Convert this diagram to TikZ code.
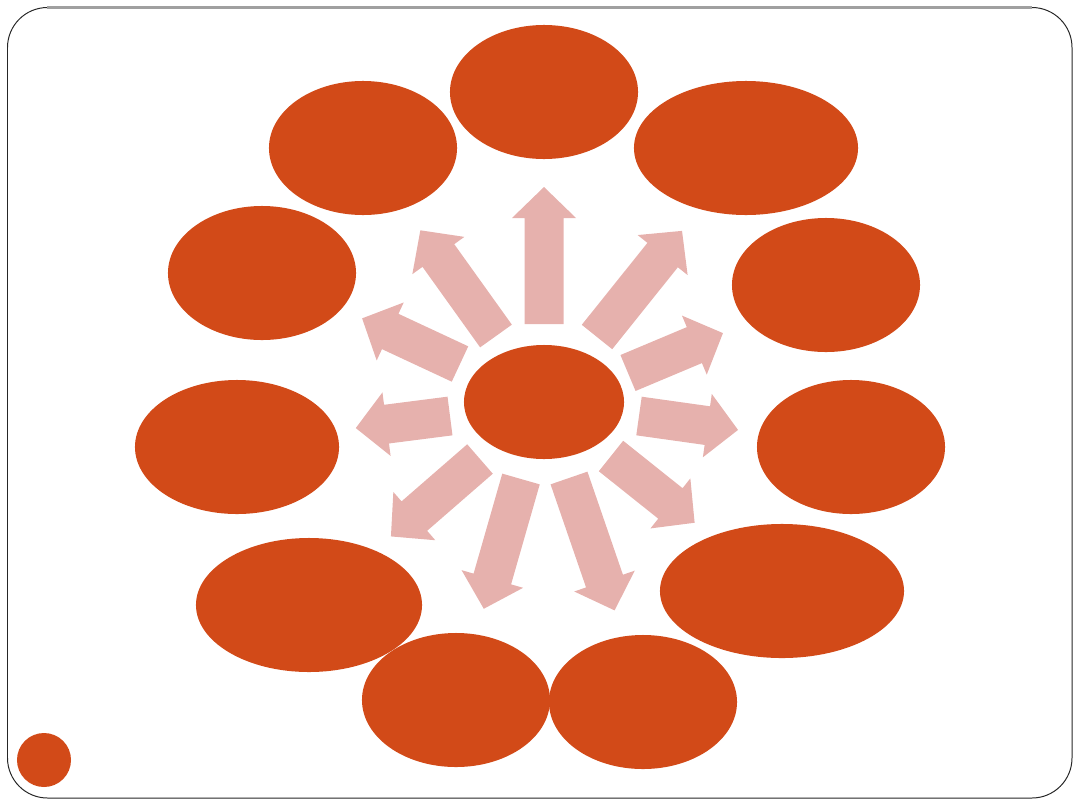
\documentclass[tikz,border=0pt]{standalone}
\usetikzlibrary{shapes.geometric}
\definecolor{bubblered}{RGB}{210,74,24}
\definecolor{raypink}{RGB}{230,177,173}
\definecolor{framegray}{RGB}{160,160,160}

\begin{document}
\begin{tikzpicture}[x=0.025cm, y=-0.025cm]
\tikzset{bubble/.style = {shape=ellipse, fill=bubblered, minimum width=4.7cm, minimum height=3.35cm, inner sep=0pt}}
\tikzset{ray/.style = {fill=raypink}}
\useasboundingbox (0,0) rectangle (1080,810);

% slide frame
\draw[black!85, line width=0.7pt, rounded corners=1cm] (7.5,7.5) rectangle (1072,798);
\draw[framegray, line width=1.5pt] (47,7.5) -- (1032,7.5);

% outer ring of ellipses
\node[bubble] (top) at (544,92){};
\node[bubble] (upleft) at (363,148){};
\node[bubble, minimum width=5.6cm] (upright) at (746,148){};
\node[bubble] (left1) at (262,273){};
\node[bubble] (right1) at (826,285){};
\node[bubble, minimum width=5.1cm] (left2) at (237,447){};
\node[bubble] (right2) at (851,447){};
\node[bubble, minimum width=5.65cm] (lowleft) at (309,605){};
\node[bubble, minimum width=6.1cm] (lowright) at (782,591){};
\node[bubble] (botleft) at (456,700){};
\node[bubble] (botright) at (643,702){};

% centre
\node[bubble, minimum width=4cm, minimum height=2.85cm] (hub) at (544,402){};

% block arrows out of the centre
\foreach \bx/\by/\ang/\len in {544/324/90/137, 496/336/125.6/130, 597/337/51.3/136,
    460/364/155/108, 628/373/22.8/103, 450/416/187.3/95, 639/416/-8/100,
    480/459/-139/118, 611/456/-38.6/107, 521/479/-106/135, 569/478/-71/140}
{
  \begin{scope}[shift={(\bx,\by)}, rotate=\ang]
    \fill[ray] (0,-19.5) -- (\len-31,-19.5) -- (\len-31,-32) -- (\len,0)
      -- (\len-31,32) -- (\len-31,19.5) -- (0,19.5) -- cycle;
  \end{scope}
}

% corner dot
\node[circle, fill=bubblered, minimum size=1.35cm, inner sep=0pt] (dot) at (44,760){};
\end{tikzpicture}
\end{document}
